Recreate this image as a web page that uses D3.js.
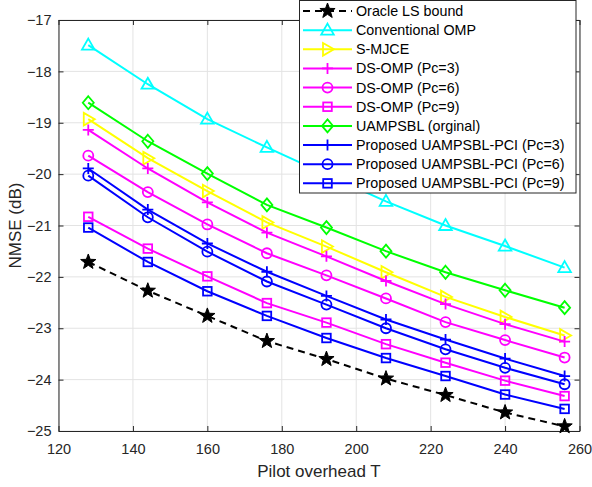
<!DOCTYPE html>
<html>
<head>
<meta charset="utf-8">
<script src="https://cdn.jsdelivr.net/npm/d3@7"></script>
<style>
  html, body { margin: 0; padding: 0; background: #fff; }
  svg { display: block; font-family: "Liberation Sans", Arial, Helvetica, sans-serif; }
</style>
</head>
<body>
<svg id="chart" width="592" height="487"></svg>
<script>
// Pilot lengths on the x axis
const pilots = [128, 144, 160, 176, 192, 208, 224, 240, 256];

// NMSE (dB) per method
const oracleLS      = [-21.71, -22.27, -22.76, -23.25, -23.60, -23.98, -24.30, -24.64, -24.91];
const convOMP       = [-17.49, -18.25, -18.93, -19.48, -20.01, -20.53, -21.00, -21.40, -21.82];
const sMJCE         = [-18.93, -19.69, -20.33, -20.94, -21.41, -21.91, -22.39, -22.78, -23.14];
const dsOMP3        = [-19.14, -19.89, -20.55, -21.14, -21.60, -22.08, -22.53, -22.92, -23.26];
const dsOMP6        = [-19.64, -20.35, -20.98, -21.54, -21.97, -22.42, -22.88, -23.23, -23.57];
const dsOMP9        = [-20.83, -21.45, -21.99, -22.51, -22.89, -23.31, -23.67, -24.02, -24.32];
const uampsbl       = [-18.61, -19.36, -19.99, -20.60, -21.04, -21.50, -21.91, -22.26, -22.60];
const proposedPc3   = [-19.89, -20.69, -21.35, -21.90, -22.37, -22.83, -23.22, -23.59, -23.93];
const proposedPc6   = [-20.03, -20.84, -21.51, -22.09, -22.54, -23.00, -23.41, -23.77, -24.09];
const proposedPc9   = [-21.04, -21.71, -22.28, -22.76, -23.19, -23.58, -23.93, -24.29, -24.57];

const seriesNames = [
  "Oracle LS bound", "Conventional OMP", "S-MJCE",
  "DS-OMP (Pc=3)", "DS-OMP (Pc=6)", "DS-OMP (Pc=9)",
  "UAMPSBL (orginal)",
  "Proposed UAMPSBL-PCI (Pc=3)", "Proposed UAMPSBL-PCI (Pc=6)", "Proposed UAMPSBL-PCI (Pc=9)"
];
const seriesValues = [oracleLS, convOMP, sMJCE, dsOMP3, dsOMP6, dsOMP9, uampsbl, proposedPc3, proposedPc6, proposedPc9];
const seriesColors = ["#000000", "#00ffff", "#ffff00", "#ff00ff", "#ff00ff", "#ff00ff", "#00ff00", "#0000ff", "#0000ff", "#0000ff"];
const seriesMarkers = ["star", "triUp", "triRight", "plus", "circle", "square", "diamond", "plus", "circle", "square"];
const seriesDash = ["7,5", null, null, null, null, null, null, null, null, null];

const xTicks = [120, 140, 160, 180, 200, 220, 240, 260];
const yTicks = [-25, -24, -23, -22, -21, -20, -19, -18, -17];

const svg = d3.select("#chart");
const margin = { left: 58.5, right: 592 - 579.5, top: 20, bottom: 487 - 431 };
const W = 592 - margin.left - margin.right;
const H = 487 - margin.top - margin.bottom;

const x = d3.scaleLinear().domain([120, 260]).range([margin.left, margin.left + W]);
const y = d3.scaleLinear().domain([-25, -17]).range([margin.top + H, margin.top]);

// Grid
const grid = svg.append("g");
grid.selectAll(".gx").data(xTicks).join("line")
  .attr("x1", d => x(d)).attr("x2", d => x(d))
  .attr("y1", margin.top).attr("y2", margin.top + H)
  .attr("stroke", "#e3e3e3").attr("stroke-width", 1);
grid.selectAll(".gy").data(yTicks).join("line")
  .attr("y1", d => y(d)).attr("y2", d => y(d))
  .attr("x1", margin.left).attr("x2", margin.left + W)
  .attr("stroke", "#e3e3e3").attr("stroke-width", 1);

// Axes with inward ticks on all four sides
const axisColor = "#262626";
function styleAxis(g) {
  g.selectAll("path").attr("stroke", axisColor).attr("stroke-width", 1);
  g.selectAll("line").attr("stroke", axisColor);
  g.selectAll("text").attr("fill", axisColor).style("font-size", "14.5px")
    .style("font-family", "'Liberation Sans', Arial, sans-serif");
}
const gxB = svg.append("g").attr("transform", `translate(0,${margin.top + H})`)
  .call(d3.axisBottom(x).tickValues(xTicks).tickSizeInner(-5).tickSizeOuter(0).tickPadding(13).tickFormat(d3.format("d")));
styleAxis(gxB);
const gxT = svg.append("g").attr("transform", `translate(0,${margin.top})`)
  .call(d3.axisTop(x).tickValues(xTicks).tickSizeInner(-5).tickSizeOuter(0).tickFormat(""));
styleAxis(gxT);
const gyL = svg.append("g").attr("transform", `translate(${margin.left},0)`)
  .call(d3.axisLeft(y).tickValues(yTicks).tickSizeInner(-5).tickSizeOuter(0).tickPadding(7).tickFormat(d3.format("d")));
styleAxis(gyL);
const gyR = svg.append("g").attr("transform", `translate(${margin.left + W},0)`)
  .call(d3.axisRight(y).tickValues(yTicks).tickSizeInner(-5).tickSizeOuter(0).tickFormat(""));
styleAxis(gyR);

// Axis titles
svg.append("text")
  .attr("x", x(190)).attr("y", 477)
  .attr("text-anchor", "middle").attr("fill", axisColor)
  .style("font-size", "17px").text("Pilot overhead T");
svg.append("text")
  .attr("transform", `translate(21,${y(-21)}) rotate(-90)`)
  .attr("text-anchor", "middle").attr("fill", axisColor)
  .style("font-size", "17px").text("NMSE (dB)");

// Marker shapes
function starPath(R, r) {
  const pts = [];
  for (let i = 0; i < 10; i++) {
    const a = -Math.PI / 2 + i * Math.PI / 5;
    const rad = i % 2 === 0 ? R : r;
    pts.push([rad * Math.cos(a), rad * Math.sin(a)]);
  }
  return "M" + pts.map(p => p.join(",")).join("L") + "Z";
}
function drawMarker(g, type, color) {
  switch (type) {
    case "star":
      g.append("path").attr("d", starPath(8, 3.3)).attr("fill", color).attr("stroke", color).attr("stroke-width", 1);
      break;
    case "triUp":
      g.append("path").attr("d", "M0,-6.5L6.3,4.5L-6.3,4.5Z").attr("fill", "none").attr("stroke", color).attr("stroke-width", 1.8);
      break;
    case "triRight":
      g.append("path").attr("d", "M6.5,0L-4.5,6.3L-4.5,-6.3Z").attr("fill", "none").attr("stroke", color).attr("stroke-width", 1.8);
      break;
    case "plus":
      g.append("path").attr("d", "M-5.5,0H5.5M0,-5.5V5.5").attr("fill", "none").attr("stroke", color).attr("stroke-width", 1.8);
      break;
    case "circle":
      g.append("circle").attr("r", 5).attr("fill", "none").attr("stroke", color).attr("stroke-width", 1.8);
      break;
    case "square":
      g.append("rect").attr("x", -4.3).attr("y", -4.3).attr("width", 8.6).attr("height", 8.6)
        .attr("fill", "none").attr("stroke", color).attr("stroke-width", 1.8);
      break;
    case "diamond":
      g.append("path").attr("d", "M0,-6.5L5.5,0L0,6.5L-5.5,0Z").attr("fill", "none").attr("stroke", color).attr("stroke-width", 1.8);
      break;
  }
}

// Series lines and markers
const line = d3.line().x((d, i) => x(pilots[i])).y(d => y(d));
const plot = svg.append("g");
seriesValues.forEach((vals, k) => {
  const g = plot.append("g");
  g.append("path").datum(vals)
    .attr("d", line).attr("fill", "none")
    .attr("stroke", seriesColors[k]).attr("stroke-width", 2)
    .attr("stroke-dasharray", seriesDash[k]);
  vals.forEach((v, i) => {
    const m = g.append("g").attr("transform", `translate(${x(pilots[i])},${y(v)})`);
    drawMarker(m, seriesMarkers[k], seriesColors[k]);
  });
});

// Legend
const lgX = 299.5, lgY = 0.5, lgW = 276.5, lgH = 192.5, rowH = 19.15, row0 = 11;
const legend = svg.append("g");
legend.append("rect").attr("x", lgX).attr("y", lgY).attr("width", lgW).attr("height", lgH)
  .attr("fill", "#fff").attr("stroke", axisColor).attr("stroke-width", 1);
seriesNames.forEach((name, k) => {
  const cy = row0 + k * rowH;
  const row = legend.append("g");
  row.append("line").attr("x1", 303).attr("x2", 352).attr("y1", cy).attr("y2", cy)
    .attr("stroke", seriesColors[k]).attr("stroke-width", 2)
    .attr("stroke-dasharray", seriesDash[k]);
  const m = row.append("g").attr("transform", `translate(327.5,${cy})`);
  drawMarker(m, seriesMarkers[k], seriesColors[k]);
  row.append("text").attr("x", 356).attr("y", cy).attr("dy", "0.35em")
    .attr("fill", "#000").style("font-size", "14.3px").text(name);
});
</script>
</body>
</html>
